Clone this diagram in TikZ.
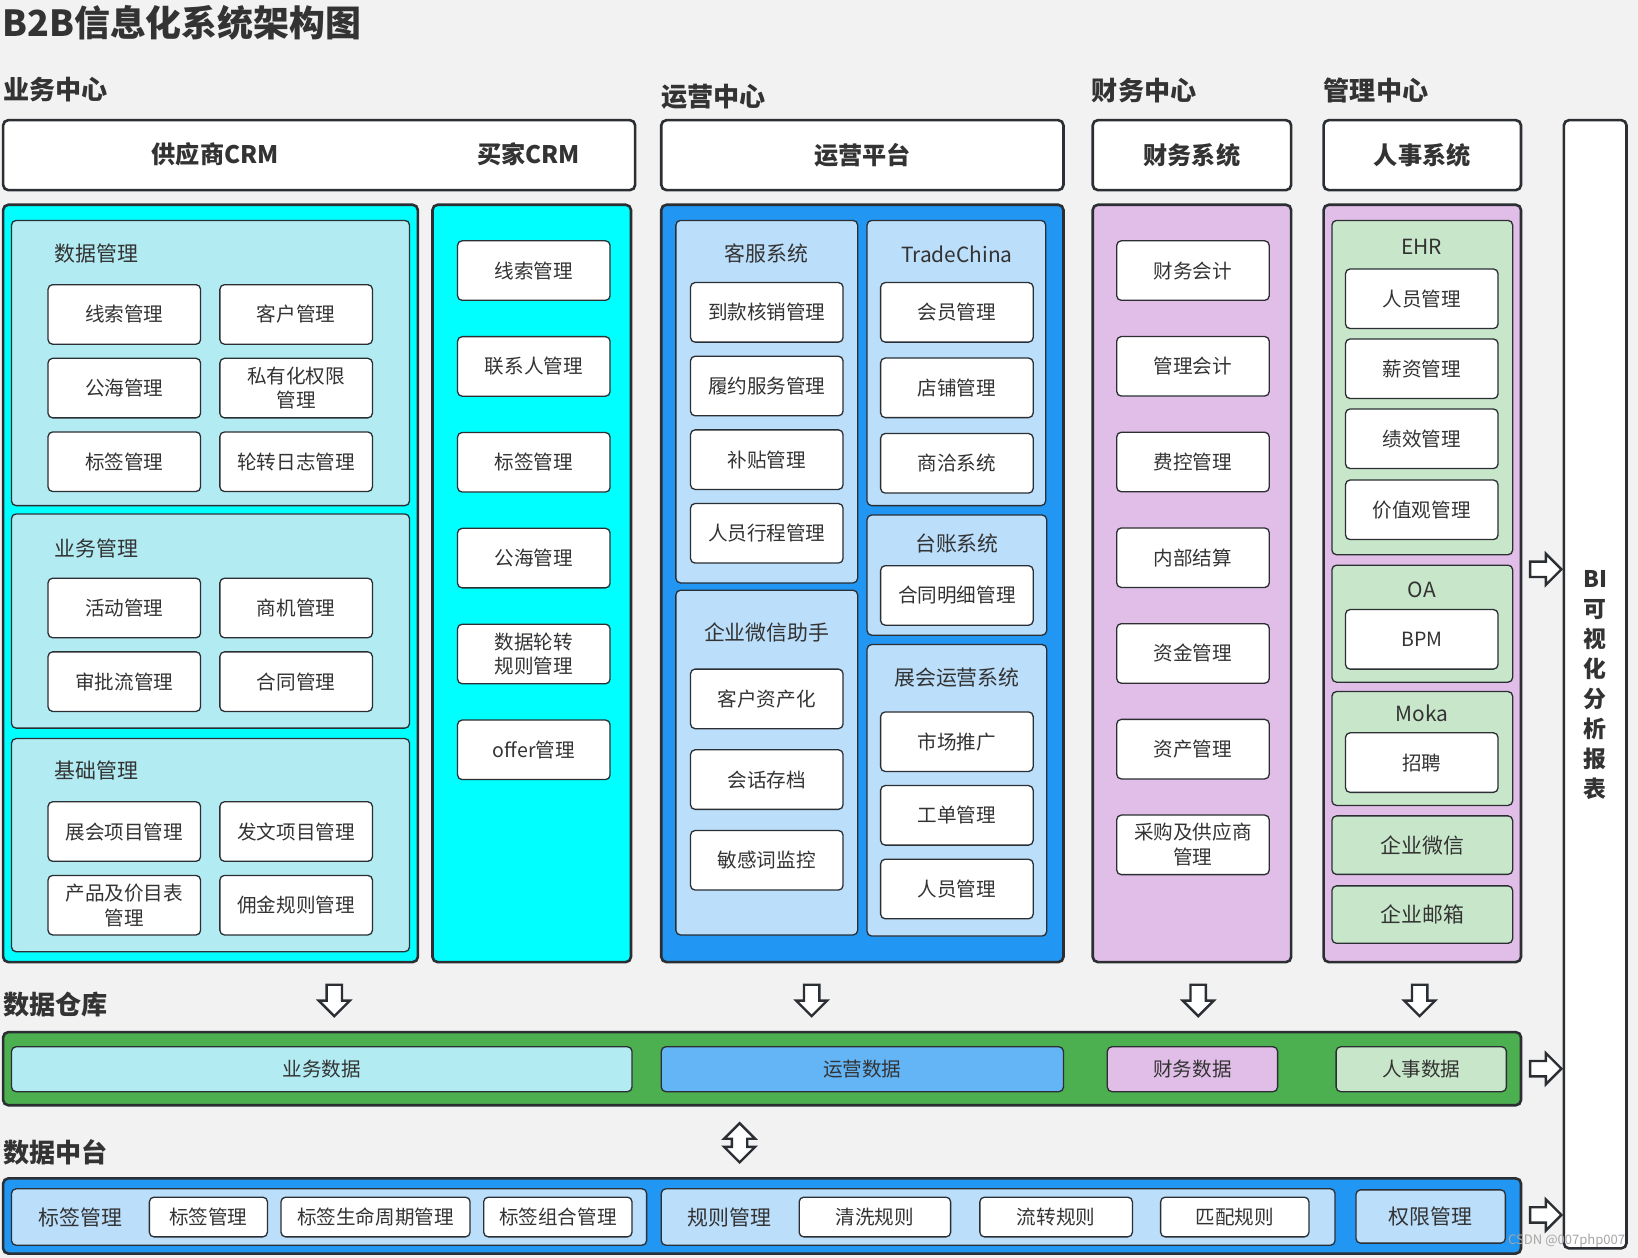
\documentclass[tikz,border=0pt]{standalone}
\usepackage{fontspec}
\setmainfont{Noto Sans CJK SC}
\usepackage{tikz}
\usetikzlibrary{shapes.arrows, positioning, fit}

\definecolor{paper}{HTML}{F2F2F2}
\definecolor{edge}{HTML}{2B2F33}
\definecolor{ink}{HTML}{333333}
\definecolor{aqua}{HTML}{00FFFF}
\definecolor{aqualight}{HTML}{B2EBF2}
\definecolor{ocean}{HTML}{2196F3}
\definecolor{sky}{HTML}{BBDEFB}
\definecolor{skymid}{HTML}{64B5F6}
\definecolor{lilac}{HTML}{E1BEE7}
\definecolor{mint}{HTML}{C8E6C9}
\definecolor{leaf}{HTML}{4CAF50}

\newcommand{\ttlfont}{\fontsize{27.5pt}{32pt}\selectfont\bfseries}
\newcommand{\secfont}{\fontsize{20pt}{24pt}\selectfont\bfseries}
\newcommand{\hdrfont}{\fontsize{18.5pt}{22pt}\selectfont\bfseries}
\newcommand{\bifont}{\fontsize{17.5pt}{23pt}\selectfont\bfseries}
\newcommand{\grpfont}{\fontsize{16pt}{19pt}\selectfont}
\newcommand{\itmfont}{\fontsize{15pt}{19pt}\selectfont}

\tikzstyle{sectitle} = [anchor=west, inner sep=0pt, font=\secfont, text=ink]
\tikzstyle{header} = [rectangle, rounded corners=4pt, draw=edge, line width=2pt, fill=white, inner sep=0pt, font=\hdrfont, text=ink]
\tikzstyle{hdrtext} = [inner sep=0pt, font=\hdrfont, text=ink]
\tikzstyle{panel} = [rectangle, rounded corners=4pt, draw=edge, line width=2pt, inner sep=0pt]
\tikzstyle{subgroup} = [rectangle, rounded corners=3.5pt, draw=edge, line width=1pt, inner sep=0pt]
\tikzstyle{grouplabel} = [inner sep=0pt, font=\grpfont, text=ink]
\tikzstyle{item} = [rectangle, rounded corners=3.5pt, draw=edge, line width=1pt, fill=white, minimum width=116.8pt, minimum height=45.6pt, inner sep=0pt, align=center, font=\itmfont, text=ink]
\tikzstyle{slim} = [rectangle, rounded corners=3.5pt, draw=edge, line width=1pt, inner sep=0pt, font=\itmfont, text=ink]
\tikzstyle{blockarrow} = [single arrow, draw=edge, line width=1.8pt, fill=white, inner xsep=0pt, inner ysep=5pt, single arrow head extend=6pt, single arrow head indent=0pt, minimum height=24pt]
\tikzstyle{bothways} = [double arrow, draw=edge, line width=1.8pt, fill=white, inner xsep=0pt, inner ysep=5pt, double arrow head extend=6pt, double arrow head indent=0pt, minimum height=30pt]

\begin{document}
\begin{tikzpicture}[x=0.8pt, y=-0.8pt, node distance=56.4pt]
\useasboundingbox (0,0) rectangle (1568,1204);
\fill[paper] (0,0) rectangle (1568,1204);

\node (title) [anchor=west, inner sep=0pt, font=\ttlfont, text=ink] at (2,22) {B2B信息化系统架构图};
\node (bizTitle) [sectitle] at (3,86) {业务中心};
\node (opsTitle) [sectitle] at (633,93) {运营中心};
\node (finTitle) [sectitle] at (1045,87) {财务中心};
\node (mgtTitle) [sectitle] at (1267,87) {管理中心};

% header row
\node (crmHead) [header, fit={(3,115) (608,182)}] {};
\node (supCRM) [hdrtext] at (206,148) {供应商CRM};
\node (buyCRM) [hdrtext] at (506,148) {买家CRM};
\node (opsHead) [header, minimum width=308pt, minimum height=53.6pt] at (825.5,148.5) {运营平台};
\node (finHead) [header, minimum width=152pt, minimum height=53.6pt] at (1141,148.5) {财务系统};
\node (hrHead) [header, minimum width=151.2pt, minimum height=53.6pt] at (1361.5,148.5) {人事系统};
\node (biBox) [header, fit={(1497,115) (1557,1195)}] {};
\node (biText) [align=center, inner sep=0pt, font=\bifont, text=ink] at (1527,656) {BI\\可\\视\\化\\分\\析\\报\\表};

% supplier CRM
\node (supPanel) [panel, fill=aqua, fit={(3,196) (400,921)}] {};
\node (dataGrp) [subgroup, fill=aqualight, fit={(11,211) (392,484)}] {};
\node (dataLbl) [grouplabel, anchor=west] at (52,243) {数据管理};
\node (lead) [item] at (119,301) {线索管理};
\node (sea) [item, below of=lead] {公海管理};
\node (tag) [item, below of=sea] {标签管理};
\node (cust) [item, node distance=131.6pt, right of=lead] {客户管理};
\node (priv) [item, below of=cust] {私有化权限\\管理};
\node (rotlog) [item, below of=priv] {轮转日志管理};

\node (bizGrp) [subgroup, fill=aqualight, fit={(11,492) (392,697)}] {};
\node (bizLbl) [grouplabel, anchor=west] at (52,525) {业务管理};
\node (act) [item] at (119,582) {活动管理};
\node (flow) [item, below of=act] {审批流管理};
\node (oppo) [item, node distance=131.6pt, right of=act] {商机管理};
\node (contract) [item, below of=oppo] {合同管理};

\node (baseGrp) [subgroup, fill=aqualight, fit={(11,707) (392,911)}] {};
\node (baseLbl) [grouplabel, anchor=west] at (52,738) {基础管理};
\node (expo) [item] at (119,796) {展会项目管理};
\node (price) [item, below of=expo] {产品及价目表\\管理};
\node (press) [item, node distance=131.6pt, right of=expo] {发文项目管理};
\node (commis) [item, below of=press] {佣金规则管理};

% buyer CRM
\node (buyPanel) [panel, fill=aqua, fit={(414,196) (604,921)}] {};
\node (bLead) [item] at (511,259) {线索管理};
\node (bContact) [item, node distance=73.4pt, below of=bLead] {联系人管理};
\node (bTag) [item, node distance=73.4pt, below of=bContact] {标签管理};
\node (bSea) [item, node distance=73.4pt, below of=bTag] {公海管理};
\node (bRule) [item, node distance=73.4pt, below of=bSea] {数据轮转\\规则管理};
\node (bOffer) [item, node distance=73.4pt, below of=bRule] {offer管理};

% operations
\node (opsPanel) [panel, fill=ocean, fit={(633,196) (1018,921)}] {};
\node (svcGrp) [subgroup, fill=sky, fit={(647,211) (821,558)}] {};
\node (svcLbl) [grouplabel] at (734,243) {客服系统};
\node (payoff) [item] at (734,299) {到款核销管理};
\node (perform) [item, below of=payoff] {履约服务管理};
\node (subsidy) [item, below of=perform] {补贴管理};
\node (trip) [item, below of=subsidy] {人员行程管理};

\node (wxGrp) [subgroup, fill=sky, fit={(647,565) (821,895)}] {};
\node (wxLbl) [grouplabel] at (734,605) {企业微信助手};
\node (asset) [item] at (734,669) {客户资产化};
\node (chat) [item, node distance=61.8pt, below of=asset] {会话存档};
\node (words) [item, node distance=61.8pt, below of=chat] {敏感词监控};

\node (tcGrp) [subgroup, fill=sky, fit={(830,211) (1001,484)}] {};
\node (tcLbl) [grouplabel] at (916,243) {TradeChina};
\node (member) [item] at (916,299) {会员管理};
\node (shop) [item, node distance=57.8pt, below of=member] {店铺管理};
\node (deal) [item, node distance=57.8pt, below of=shop] {商洽系统};

\node (ledgerGrp) [subgroup, fill=sky, fit={(830,493) (1002,608)}] {};
\node (ledgerLbl) [grouplabel] at (916,520) {台账系统};
\node (detail) [item] at (916,570) {合同明细管理};

\node (showGrp) [subgroup, fill=sky, fit={(830,617) (1002,896)}] {};
\node (showLbl) [grouplabel] at (916,649) {展会运营系统};
\node (market) [item] at (916,710) {市场推广};
\node (ticket) [item, below of=market] {工单管理};
\node (staff) [item, below of=ticket] {人员管理};

% finance
\node (finPanel) [panel, fill=lilac, fit={(1046,196) (1236,921)}] {};
\node (finAcct) [item] at (1142,259) {财务会计};
\node (mgtAcct) [item, node distance=73.3pt, below of=finAcct] {管理会计};
\node (cost) [item, node distance=73.3pt, below of=mgtAcct] {费控管理};
\node (settle) [item, node distance=73.3pt, below of=cost] {内部结算};
\node (fund) [item, node distance=73.3pt, below of=settle] {资金管理};
\node (property) [item, node distance=73.3pt, below of=fund] {资产管理};
\node (purchase) [item, node distance=73.3pt, below of=property] {采购及供应商\\管理};

% management
\node (hrPanel) [panel, fill=lilac, fit={(1267,196) (1456,921)}] {};
\node (ehrGrp) [subgroup, fill=mint, fit={(1275,211) (1448,531)}] {};
\node (ehrLbl) [grouplabel] at (1361,236) {EHR};
\node (people) [item] at (1361,286) {人员管理};
\node (salary) [item, node distance=53.6pt, below of=people] {薪资管理};
\node (kpi) [item, node distance=53.6pt, below of=salary] {绩效管理};
\node (values) [item, node distance=54.4pt, below of=kpi] {价值观管理};

\node (oaGrp) [subgroup, fill=mint, fit={(1275,541) (1448,653)}] {};
\node (oaLbl) [grouplabel] at (1361,565) {OA};
\node (bpm) [item] at (1361,612) {BPM};
\node (mokaGrp) [subgroup, fill=mint, fit={(1275,662) (1448,771)}] {};
\node (mokaLbl) [grouplabel] at (1361,683) {Moka};
\node (hire) [item] at (1361,730) {招聘};
\node (wecom) [slim, fill=mint, minimum width=138.4pt, minimum height=44.8pt, font=\grpfont] at (1361.5,809) {企业微信};
\node (mail) [slim, fill=mint, minimum width=138.4pt, minimum height=44pt, font=\grpfont] at (1361.5,875.5) {企业邮箱};

% arrows
\node (toBizData) [blockarrow, rotate=-90] at (320,954) {};
\node (toOpsData) [blockarrow, rotate=-90] at (777,954) {};
\node (toFinData) [blockarrow, rotate=-90] at (1147,954) {};
\node (toHrData) [blockarrow, rotate=-90] at (1359,954) {};
\node (mgtToBI) [blockarrow] at (1476,545) {};
\node (dwToBI) [blockarrow] at (1476,1023) {};
\node (dpToBI) [blockarrow] at (1476,1163) {};
\node (dwDp) [bothways, rotate=90] at (708,1094) {};

% data warehouse
\node (dwTitle) [sectitle] at (3,962) {数据仓库};
\node (dwBand) [panel, fill=leaf, fit={(3,988) (1456,1058)}] {};
\node (bizData) [slim, fill=aqualight, minimum width=475.2pt, minimum height=34.4pt] at (308,1023.5) {业务数据};
\node (opsData) [slim, fill=skymid, minimum width=308pt, minimum height=34.4pt] at (825.5,1023.5) {运营数据};
\node (finData) [slim, fill=lilac, minimum width=130.4pt, minimum height=34.4pt] at (1141.5,1023.5) {财务数据};
\node (hrData) [slim, fill=mint, minimum width=130.4pt, minimum height=34.4pt] at (1360.5,1023.5) {人事数据};

% data platform
\node (dpTitle) [sectitle] at (3,1103) {数据中台};
\node (dpBand) [panel, fill=ocean, fit={(3,1128) (1456,1200)}] {};
\node (tagGrp) [slim, fill=sky, fit={(11,1138) (619,1192)}] {};
\node (tagLbl) [grouplabel] at (77,1165) {标签管理};
\node (tagBase) [slim, fill=white, minimum width=90.4pt, minimum height=30.4pt] at (199.5,1165) {标签管理};
\node (tagLife) [slim, fill=white, minimum width=144.8pt, minimum height=30.4pt] at (359.5,1165) {标签生命周期管理};
\node (tagCombo) [slim, fill=white, minimum width=113.6pt, minimum height=30.4pt] at (534,1165) {标签组合管理};
\node (ruleGrp) [slim, fill=sky, fit={(633,1138) (1278,1192)}] {};
\node (ruleLbl) [grouplabel] at (698,1165) {规则管理};
\node (clean) [slim, fill=white, minimum width=116pt, minimum height=30.4pt] at (837.5,1165) {清洗规则};
\node (route) [slim, fill=white, minimum width=116.8pt, minimum height=30.4pt] at (1011,1165) {流转规则};
\node (match) [slim, fill=white, minimum width=113.6pt, minimum height=30.4pt] at (1182,1165) {匹配规则};
\node (perm) [slim, fill=sky, minimum width=114.4pt, minimum height=40.8pt, font=\grpfont] at (1369.5,1164.5) {权限管理};

\node (mark) [anchor=east, inner sep=0pt, font=\fontsize{10pt}{12pt}\selectfont, text=gray!70] at (1556,1188) {CSDN @007php007};
\end{tikzpicture}
\end{document}
